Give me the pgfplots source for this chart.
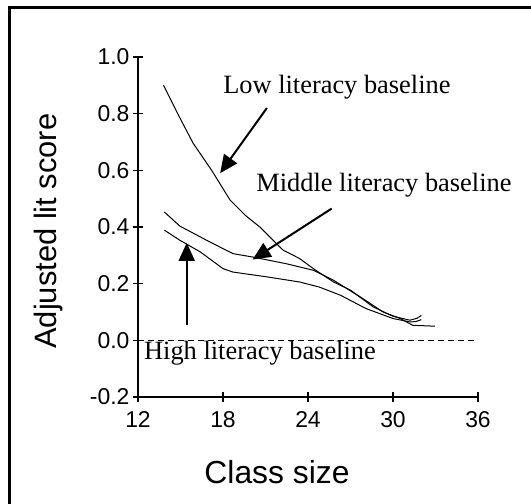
\documentclass[border=0pt]{standalone}
\usepackage{fontspec}
\setmainfont{Liberation Sans}
\newfontfamily\tms{Liberation Serif}
\usepackage{pgfplots}
\pgfplotsset{compat=1.18}
\usetikzlibrary{arrows.meta}

\begin{document}
\begin{tikzpicture}
\begin{axis}[
  at={(0,0)}, anchor=south west,
  scale only axis, width=340bp, height=340bp,
  xmin=12, xmax=36, ymin=-0.2, ymax=1.0,
  xtick={12,18,24,30,36},
  ytick={-0.2,0,0.2,0.4,0.6,0.8,1.0},
  axis lines=left,
  axis line style={-, line width=1.6bp},
  tick align=center,
  major tick length=10bp,
  tick style={line width=1.4bp, black},
  clip=false,
  /pgf/number format/assume math mode=true,
  yticklabel style={/pgf/number format/fixed, /pgf/number format/fixed zerofill,
    /pgf/number format/precision=1, font=\fontsize{23}{26}\selectfont},
  xticklabel style={font=\fontsize{23}{26}\selectfont, yshift=-6bp},
  xlabel={Class size},
  ylabel={Adjusted lit score},
  xlabel style={at={(axis description cs:0.409,-0.22)}, anchor=center,
    font=\fontsize{32}{36}\selectfont},
  ylabel style={at={(axis description cs:-0.262,0.488)}, anchor=center, rotate=0,
    font=\fontsize{31}{34}\selectfont},
]
% low literacy baseline
\addplot[black, line width=1bp] coordinates {
  (13.8,0.90) (14.8,0.80) (15.9,0.695) (17.2,0.60) (18.5,0.495)
  (19.6,0.44) (20.6,0.40) (21.5,0.355) (22.25,0.318) (23.4,0.289)
  (24.35,0.254) (25.8,0.206) (27.0,0.177) (28.6,0.118) (30.0,0.085)
  (31.2,0.071) (31.7,0.078) (32.0,0.088)
};
% middle literacy baseline
\addplot[black, line width=1bp] coordinates {
  (13.86,0.453) (14.96,0.403) (16.85,0.353) (18.7,0.306) (20.1,0.294)
  (22.5,0.270) (24.4,0.247) (25.8,0.212) (27.7,0.153) (29.3,0.100)
  (30.5,0.077) (31.4,0.053) (32.95,0.050)
};
% high literacy baseline
\addplot[black, line width=1bp] coordinates {
  (13.86,0.389) (14.96,0.353) (16.4,0.312) (18.0,0.253) (18.7,0.241)
  (21.1,0.224) (23.4,0.206) (24.8,0.188) (26.3,0.159) (28.1,0.112)
  (30.0,0.077) (31.2,0.065) (31.6,0.066) (32.0,0.073)
};
% zero reference
\addplot[black, line width=1.1bp, dash pattern=on 6bp off 4bp] coordinates {(12,0) (36,0)};

\draw[line width=2bp, -{Triangle[length=18bp,width=16bp]}] (axis cs:21.1,0.82) -- (axis cs:17.8,0.59);
\draw[line width=2bp, -{Triangle[length=18bp,width=16bp]}] (axis cs:25.67,0.465) -- (axis cs:20.09,0.285);
\draw[line width=2bp, -{Triangle[length=18bp,width=16bp]}] (axis cs:15.44,0.053) -- (axis cs:15.44,0.344);

\node[font=\tms\fontsize{26.5}{30}\selectfont, inner sep=0] at (axis cs:26.04,0.894) {Low literacy baseline};
\node[font=\tms\fontsize{26.5}{30}\selectfont, inner sep=0] at (axis cs:29.36,0.548) {Middle literacy baseline};
\node[font=\tms\fontsize{26.5}{30}\selectfont, inner sep=0] at (axis cs:20.61,-0.046) {High literacy baseline};
\end{axis}
\draw[line width=2.2bp] (-128.5bp,-120bp) -- (-128.5bp,389.5bp) -- (410bp,389.5bp);
\pgfresetboundingbox
\useasboundingbox (-138bp,-107bp) rectangle (393bp,397bp);
\end{tikzpicture}
\end{document}
